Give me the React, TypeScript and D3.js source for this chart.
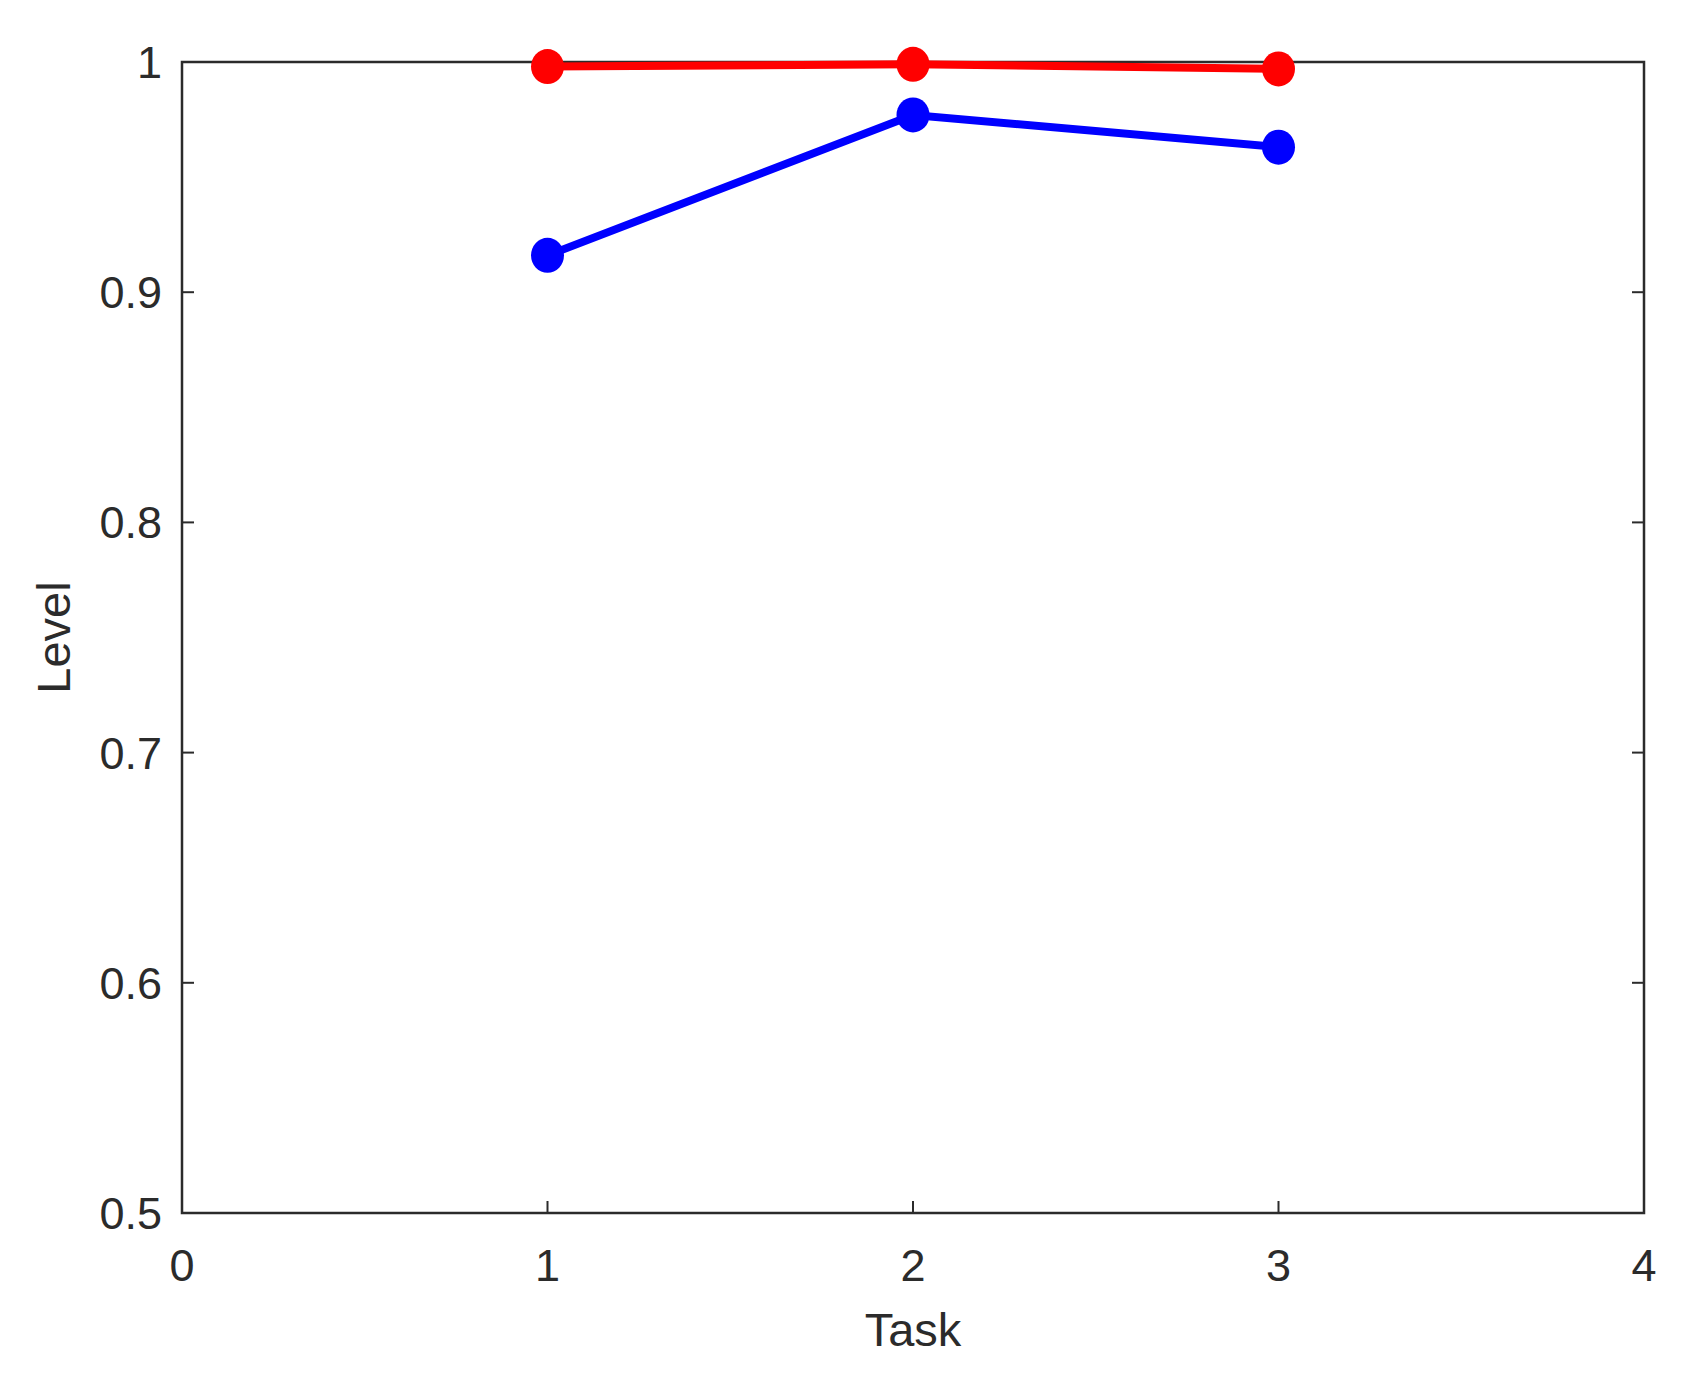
import React, { useEffect, useRef } from "react";
import * as d3 from "d3";

const tasks = [1, 2, 3];
const redLevel = [0.998, 0.999, 0.997];
const blueLevel = [0.916, 0.977, 0.963];
const xTicks = [0, 1, 2, 3, 4];
const yTicks = [0.5, 0.6, 0.7, 0.8, 0.9, 1];

const App = () => {
  const svgRef = useRef<SVGSVGElement | null>(null);

  useEffect(() => {
    const w = 1688;
    const h = 1376;
    const m = { left: 182, right: 44, top: 62, bottom: 163 };
    const svg = d3.select(svgRef.current);
    svg.selectAll("*").remove();
    svg.attr("width", w).attr("height", h);

    const x = d3.scaleLinear().domain([0, 4]).range([m.left, w - m.right]);
    const y = d3.scaleLinear().domain([0.5, 1]).range([h - m.bottom, m.top]);
    const axisColor = "#2b2b2b";
    const font = "'Liberation Sans', Arial, sans-serif";
    const tick = 12;

    const g = svg.append("g");

    // ticks point inward on all four sides
    xTicks.forEach((t) => {
      g.append("line")
        .attr("x1", x(t)).attr("x2", x(t))
        .attr("y1", y(0.5)).attr("y2", y(0.5) - tick)
        .attr("stroke", axisColor).attr("stroke-width", 2);
      g.append("line")
        .attr("x1", x(t)).attr("x2", x(t))
        .attr("y1", y(1)).attr("y2", y(1) + tick)
        .attr("stroke", axisColor).attr("stroke-width", 2);
      g.append("text")
        .attr("x", x(t)).attr("y", y(0.5) + 68)
        .attr("text-anchor", "middle")
        .attr("font-family", font).attr("font-size", 45)
        .attr("fill", axisColor)
        .text(String(t));
    });
    yTicks.forEach((t) => {
      g.append("line")
        .attr("x1", x(0)).attr("x2", x(0) + tick)
        .attr("y1", y(t)).attr("y2", y(t))
        .attr("stroke", axisColor).attr("stroke-width", 2);
      g.append("line")
        .attr("x1", x(4)).attr("x2", x(4) - tick)
        .attr("y1", y(t)).attr("y2", y(t))
        .attr("stroke", axisColor).attr("stroke-width", 2);
      g.append("text")
        .attr("x", x(0) - 20).attr("y", y(t) + 16)
        .attr("text-anchor", "end")
        .attr("font-family", font).attr("font-size", 45)
        .attr("fill", axisColor)
        .text(String(t));
    });

    g.append("rect")
      .attr("x", x(0)).attr("y", y(1))
      .attr("width", x(4) - x(0)).attr("height", y(0.5) - y(1))
      .attr("fill", "none").attr("stroke", axisColor).attr("stroke-width", 2.5);

    const line = d3.line<number>().x((d, i) => x(tasks[i])).y((d) => y(d));
    const series = [
      { vals: blueLevel, color: "#0000ff" },
      { vals: redLevel, color: "#ff0000" },
    ];
    series.forEach((s) => {
      g.append("path")
        .attr("d", line(s.vals))
        .attr("fill", "none").attr("stroke", s.color).attr("stroke-width", 8);
      g.selectAll(null)
        .data(s.vals)
        .join("ellipse")
        .attr("cx", (d, i) => x(tasks[i]))
        .attr("cy", (d) => y(d))
        .attr("rx", 16.5).attr("ry", 17.5)
        .attr("fill", s.color);
    });

    g.append("text")
      .attr("x", (x(0) + x(4)) / 2).attr("y", h - 30)
      .attr("text-anchor", "middle")
      .attr("font-family", font).attr("font-size", 47)
      .attr("fill", axisColor)
      .text("Task");
    g.append("text")
      .attr("transform", `translate(70, ${(y(0.5) + y(1)) / 2}) rotate(-90)`)
      .attr("text-anchor", "middle")
      .attr("font-family", font).attr("font-size", 47)
      .attr("fill", axisColor)
      .text("Level");
  }, []);

  return (
    <div style={{ position: "absolute", left: 0, top: 0 }}>
      <svg ref={svgRef} style={{ display: "block", background: "#fff" }}></svg>
    </div>
  );
};

export default App;
